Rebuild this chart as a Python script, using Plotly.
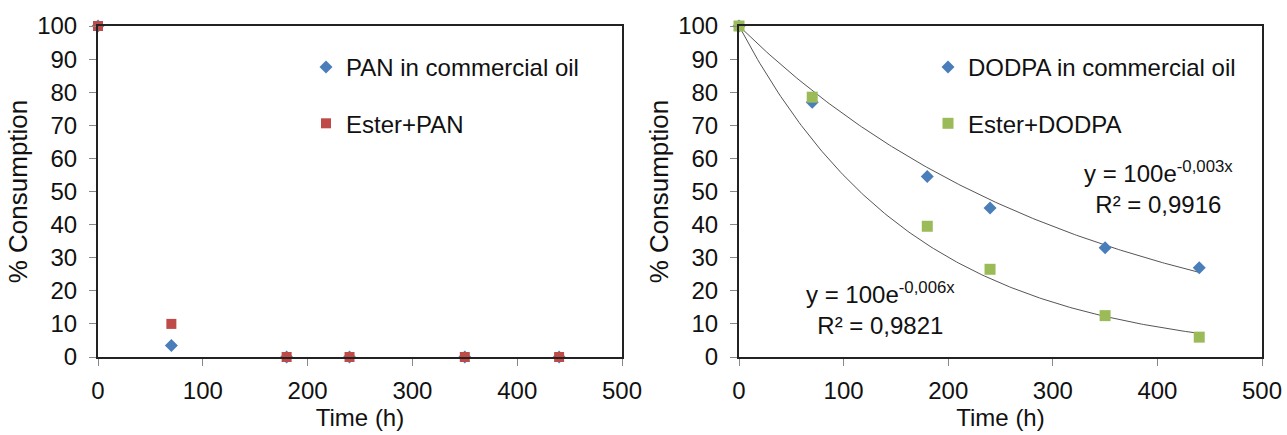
import numpy as np
import plotly.graph_objects as go

# ---- data ----
time_h = [0, 70, 180, 240, 350, 440]
pan_commercial = [100, 3.5, 0, 0, 0, 0]
ester_pan = [100, 10, 0, 0, 0, 0]
dodpa_commercial = [100, 77, 54.5, 45, 33, 27]
ester_dodpa = [100, 78.5, 39.5, 26.5, 12.5, 6]
k_dodpa = 0.0031   # fitted exponential rate (label rounded to 0,003)
k_ester_dodpa = 0.006
x_ticks = [0, 100, 200, 300, 400, 500]
y_ticks = [0, 10, 20, 30, 40, 50, 60, 70, 80, 90, 100]

FONT = "Liberation Sans, Arial, sans-serif"
BLUE = "#4a7ebb"
RED = "#be4b48"
GREEN = "#9bbb59"
TXT = "#111111"

fig = go.Figure()

# left panel
fig.add_trace(go.Scatter(x=time_h, y=pan_commercial, mode="markers", name="PAN in commercial oil",
                         marker=dict(symbol="diamond", size=10, color=BLUE),
                         xaxis="x", yaxis="y", legend="legend", legendgroup="a", cliponaxis=False))
fig.add_trace(go.Scatter(x=time_h, y=ester_pan, mode="markers", name="Ester+PAN",
                         marker=dict(symbol="square", size=10, color=RED),
                         xaxis="x", yaxis="y", legend="legend", legendgroup="b", cliponaxis=False))

# right panel trendlines
xf = np.linspace(0, 440, 200)
fig.add_trace(go.Scatter(x=xf, y=100 * np.exp(-k_dodpa * xf), mode="lines", showlegend=False,
                         line=dict(color="#555555", width=1), xaxis="x2", yaxis="y2", hoverinfo="skip"))
fig.add_trace(go.Scatter(x=xf, y=100 * np.exp(-k_ester_dodpa * xf), mode="lines", showlegend=False,
                         line=dict(color="#555555", width=1), xaxis="x2", yaxis="y2", hoverinfo="skip"))

fig.add_trace(go.Scatter(x=time_h, y=dodpa_commercial, mode="markers", name="DODPA in commercial oil",
                         marker=dict(symbol="diamond", size=10, color=BLUE),
                         xaxis="x2", yaxis="y2", legend="legend2", legendgroup="c", cliponaxis=False))
fig.add_trace(go.Scatter(x=time_h, y=ester_dodpa, mode="markers", name="Ester+DODPA",
                         marker=dict(symbol="square", size=11, color=GREEN),
                         xaxis="x2", yaxis="y2", legend="legend2", legendgroup="d", cliponaxis=False))

W, H = 1287, 435
xdom1 = [98 / W, 622 / W]
xdom2 = [739 / W, 1262 / W]
ydom = [78 / H, 409 / H]

axis_common = dict(showgrid=False, zeroline=False, showline=True, linecolor="#222222", linewidth=2,
                   mirror=True, ticks="outside", ticklen=7, tickcolor="#888888", tickwidth=1,
                   automargin=False,
                   tickfont=dict(family=FONT, size=24, color=TXT))
xcommon = dict(axis_common, range=[0, 500], tickvals=x_ticks, ticklabelstandoff=4,
               title=dict(text="Time (h)", font=dict(family=FONT, size=24, color=TXT), standoff=0))
ycommon = dict(axis_common, range=[0, 100], tickvals=y_ticks, ticklabelstandoff=7,
               title=dict(text="% Consumption", font=dict(family=FONT, size=26, color=TXT), standoff=2))

legend_common = dict(font=dict(family=FONT, size=24, color=TXT), bgcolor="rgba(0,0,0,0)",
                     tracegroupgap=22, traceorder="grouped", xanchor="left", yanchor="top",
                     itemwidth=30)

fig.update_layout(
    width=W, height=H,
    margin=dict(l=0, r=0, t=0, b=0, autoexpand=False),
    paper_bgcolor="white", plot_bgcolor="white",
    xaxis=dict(xcommon, domain=xdom1, anchor="y"),
    yaxis=dict(ycommon, domain=ydom, anchor="x"),
    xaxis2=dict(xcommon, domain=xdom2, anchor="y2"),
    yaxis2=dict(ycommon, domain=ydom, anchor="x2"),
    legend=dict(legend_common, x=306 / W, y=1 - 45 / H, xref="paper", yref="paper"),
    legend2=dict(legend_common, x=928 / W, y=1 - 45 / H, xref="paper", yref="paper"),
    annotations=[
        dict(text="y = 100e<sup>-0,003x</sup><br>R² = 0,9916", x=401, y=51.2, xref="x2", yref="y2",
             showarrow=False, align="center", font=dict(family=FONT, size=24, color=TXT)),
        dict(text="y = 100e<sup>-0,006x</sup><br>R² = 0,9821", x=135, y=14.6, xref="x2", yref="y2",
             showarrow=False, align="center", font=dict(family=FONT, size=24, color=TXT)),
    ],
)

fig.write_html("out.html")
